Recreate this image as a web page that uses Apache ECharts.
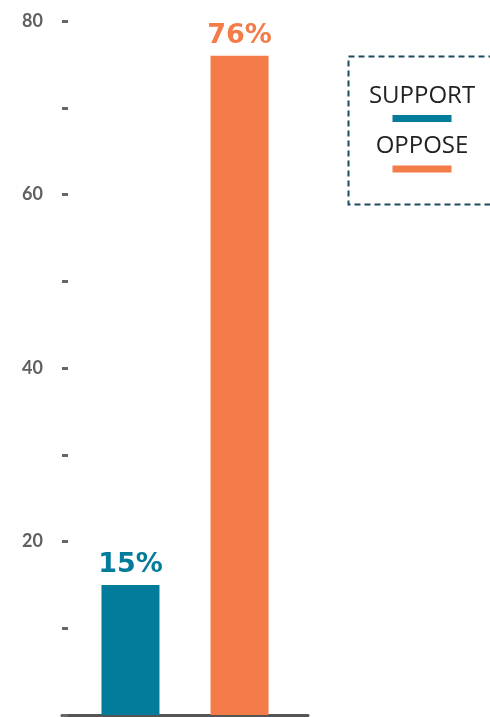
<!DOCTYPE html>
<html>
<head>
<meta charset="utf-8">
<script src="https://cdn.jsdelivr.net/npm/echarts@6/dist/echarts.min.js"></script>
<style>
  html, body { margin: 0; padding: 0; background: #fff; }
  #chart { width: 490px; height: 717px; }
</style>
</head>
<body>
<div id="chart"></div>
<script>
// data
const categories = [''];
const seriesNames = ['SUPPORT', 'OPPOSE'];
const supportValues = [15];
const opposeValues = [76];
const colours = { SUPPORT: '#037b9a', OPPOSE: '#f47c48' };

const chart = echarts.init(document.getElementById('chart'));

const labelStyle = (colour) => ({
    show: true,
    position: 'top',
    distance: 6,
    formatter: '{c}%',
    color: colour,
    fontFamily: 'DejaVu Sans',
    fontSize: 27,
    fontWeight: 'bold'
});

chart.setOption({
    animation: false,
    grid: { left: 62, right: 182, top: 21, bottom: 2 },
    xAxis: {
        type: 'category',
        data: categories,
        axisLine: { show: true, lineStyle: { color: '#555', width: 3 } },
        axisTick: { show: false },
        axisLabel: { show: false },
        splitLine: { show: false }
    },
    yAxis: {
        type: 'value',
        min: 0,
        max: 80,
        interval: 10,
        axisLine: { show: false },
        axisTick: { show: true, inside: true, length: 6, lineStyle: { color: '#666', width: 3 } },
        splitLine: { show: false },
        axisLabel: {
            margin: 19,
            color: '#606060',
            fontFamily: 'Lato',
            fontSize: 18,
            fontWeight: 'bold',
            formatter: (v) => (v > 0 && v % 20 === 0 ? String(v) : '')
        }
    },
    legend: {
        data: seriesNames,
        orient: 'vertical',
        left: 357,
        top: 79,
        padding: 5,
        itemGap: 10,
        itemWidth: 0,
        itemHeight: 0,
        icon: 'rect',
        selectedMode: false,
        formatter: (name) => '{t|' + name + '}\n{g|}\n{' + (name === 'SUPPORT' ? 's' : 'o') + '|}',
        textStyle: {
            rich: {
                t: { fontFamily: 'Open Sans', fontSize: 24, lineHeight: 28, width: 110, color: '#222', align: 'center' },
                g: { height: 5, lineHeight: 5 },
                s: { width: 59, height: 7, backgroundColor: colours.SUPPORT, align: 'center' },
                o: { width: 59, height: 7, backgroundColor: colours.OPPOSE, align: 'center' }
            }
        }
    },
    graphic: [{
        type: 'rect',
        left: 346,
        top: 54,
        shape: { width: 152, height: 148 },
        style: { fill: 'none', stroke: '#1d4b5f', lineWidth: 2, lineDash: [6, 4] },
        silent: true
    }],
    series: [
        {
            name: 'SUPPORT',
            type: 'bar',
            data: supportValues,
            barWidth: 58,
            barGap: '88%',
            itemStyle: { color: colours.SUPPORT },
            label: labelStyle(colours.SUPPORT)
        },
        {
            name: 'OPPOSE',
            type: 'bar',
            data: opposeValues,
            barWidth: 58,
            itemStyle: { color: colours.OPPOSE },
            label: labelStyle(colours.OPPOSE)
        }
    ]
});
</script>
</body>
</html>
